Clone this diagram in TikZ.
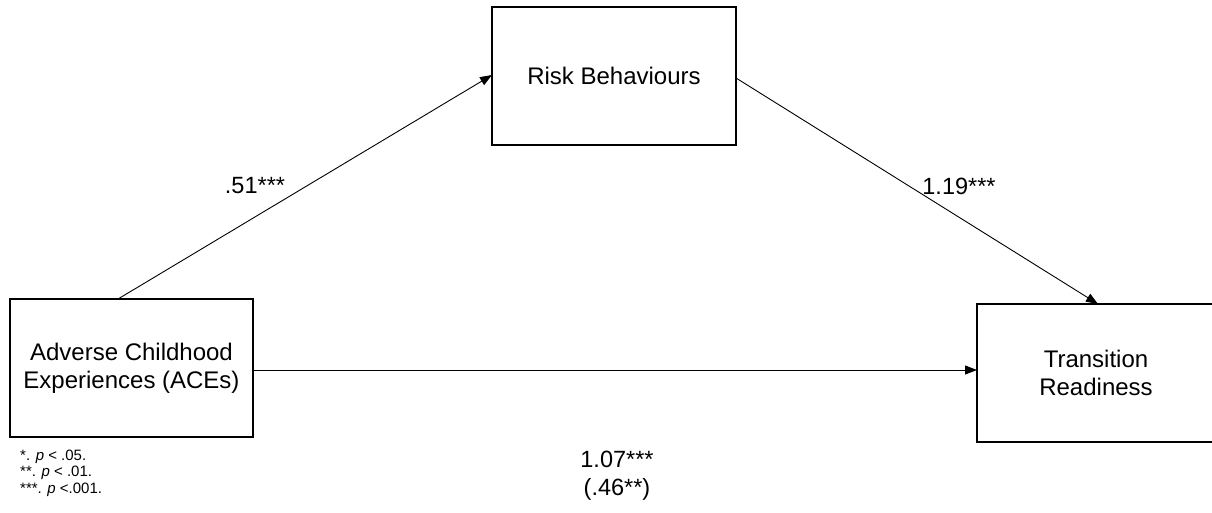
\documentclass[tikz,border=0pt]{standalone}
\usepackage{fontspec}
\setmainfont{Liberation Sans}
\usetikzlibrary{arrows.meta}
\begin{document}
\begin{tikzpicture}[x=1pt,y=-1pt,
  box/.style={draw, line width=1.1pt, inner sep=0pt, align=center, font=\fontsize{24}{28}\selectfont},
  boxtext/.style={inner sep=0pt, align=center, font=\fontsize{24}{28}\selectfont},
  lbl/.style={font=\fontsize{23.5}{28}\selectfont, align=center},
  conn/.style={line width=0.9pt, -{Triangle[length=12pt,width=9pt]}},
  note/.style={font=\fontsize{15}{17}\selectfont, anchor=base west, inner sep=0pt}]
\useasboundingbox (0,0) rectangle (1212,512);
\node[box, minimum width=243pt, minimum height=138pt] (ace) at (131.5,368) {Adverse Childhood\\Experiences (ACEs)};
\node[box, minimum width=244pt, minimum height=138pt] (risk) at (614,76) {Risk Behaviours};
\node[box, minimum width=260pt, minimum height=138pt] (tr) at (1107,373) {};
\node[boxtext] (trt) at (1096,373) {Transition\\Readiness};
\coordinate (a1) at (118,299);
\coordinate (t1) at (1098,304);
\coordinate (r1) at (492,75);
\coordinate (r2) at (736,78);
\coordinate (a2) at (253,370);
\coordinate (t2) at (977,370);
\draw[conn] (a1) -- (r1);
\draw[conn] (r2) -- (t1);
\draw[conn] (a2) -- (t2);
\node[lbl] (l1) at (255,186) {.51***};
\node[lbl] (l2) at (959,186) {1.19***};
\node[lbl] (l3) at (617,476) {1.07***\\(.46**)};
\node[note] (n1) at (20,460) {*. \textit{p} < .05.};
\node[note] (n2) at (20,476.5) {**. \textit{p} < .01.};
\node[note] (n3) at (20,493) {***. \textit{p} <.001.};
\end{tikzpicture}
\end{document}
